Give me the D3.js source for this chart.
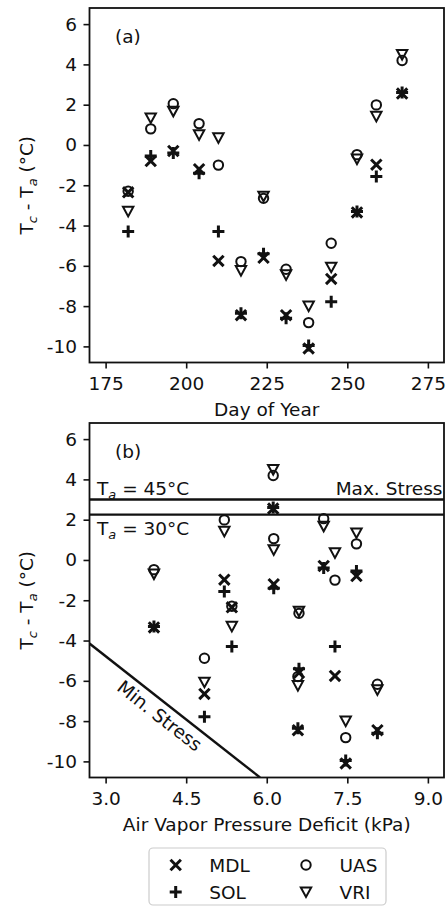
<!DOCTYPE html>
<html>
<head>
<meta charset="utf-8">
<script src="https://cdn.jsdelivr.net/npm/d3@7"></script>
<style>
  body { margin: 0; background: #fff; }
  text { font-family: "DejaVu Sans", sans-serif; fill: #111; }
</style>
</head>
<body>
<svg id="chart" width="447" height="907"></svg>
<script>
const days = [182, 189, 196, 204, 210, 217, 224, 231, 238, 245, 253, 259, 267];
const vpd  = [5.35, 7.67, 7.06, 6.13, 7.27, 6.58, 6.60, 8.06, 7.47, 4.84, 3.90, 5.21, 6.12];
const mdl  = [-2.35, -0.80, -0.30, -1.20, -5.76, -8.45, -5.60, -8.45, -10.10, -6.65, -3.35, -0.98, 2.55];
const sol  = [-4.30, -0.55, -0.40, -1.40, -4.30, -8.35, -5.40, -8.60, -9.95, -7.78, -3.30, -1.56, 2.60];
const uas  = [-2.30, 0.80, 2.05, 1.06, -1.00, -5.79, -2.65, -6.17, -8.82, -4.88, -0.48, 1.99, 4.19];
const vri  = [-3.30, 1.34, 1.67, 0.50, 0.35, -6.24, -2.55, -6.45, -8.00, -6.07, -0.70, 1.42, 4.49];

const seriesNames = ['MDL', 'SOL', 'UAS', 'VRI'];
const seriesMarks = ['x', '+', 'o', 'v'];
const seriesVals = [mdl, sol, uas, vri];

const dayTicks = [175, 200, 225, 250, 275];
const vpdTicks = [3.0, 4.5, 6.0, 7.5, 9.0];
const yTicks = [-10, -8, -6, -4, -2, 0, 2, 4, 6];

// reference lines in panel (b)
const maxStress = [{ label: '45', y: 3.0 }, { label: '30', y: 2.25 }];
const minStress = [[2.7, -4.15], [5.875, -10.8]];

const ink = '#111';
const fs = 18.5;
const svg = d3.select('#chart');

const left = 89.5, right = 444;

// draw one marker shape at a point
function marker(g, type, x, y) {
  const m = g.append('g').attr('transform', `translate(${x},${y})`);
  if (type === 'x') {
    m.append('path').attr('d', 'M-5.2,-5.2L5.2,5.2M-5.2,5.2L5.2,-5.2')
      .attr('stroke', ink).attr('stroke-width', 3).attr('fill', 'none');
  } else if (type === '+') {
    m.append('path').attr('d', 'M-6,0H6M0,-6V6')
      .attr('stroke', ink).attr('stroke-width', 3).attr('fill', 'none');
  } else if (type === 'o') {
    m.append('circle').attr('r', 4.7)
      .attr('stroke', ink).attr('stroke-width', 2).attr('fill', 'none');
  } else {
    m.append('path').attr('d', 'M-5.2,-4.6L5.2,-4.6L0,5Z')
      .attr('stroke', ink).attr('stroke-width', 2).attr('fill', 'none')
      .attr('stroke-linejoin', 'miter');
  }
}

// T with italic subscript
function tSub(sel, sub) {
  sel.append('tspan').text('T');
  sel.append('tspan').text(sub).attr('font-style', 'italic')
    .attr('font-size', fs * 0.7).attr('dy', 4);
  return sel.append('tspan').attr('dy', -4);
}

function panel(top, bottom, xDomain, xTickVals, xFmt, xVals, xTitle, tag) {
  const x = d3.scaleLinear().domain(xDomain).range([left, right]);
  const y = d3.scaleLinear().domain([-10.8, 6.8]).range([bottom, top]);
  const g = svg.append('g');

  const xAxis = g.append('g').attr('transform', `translate(0,${bottom})`)
    .call(d3.axisBottom(x).tickValues(xTickVals).tickFormat(xFmt)
      .tickSize(6).tickPadding(8.5));
  const yAxis = g.append('g').attr('transform', `translate(${left},0)`)
    .call(d3.axisLeft(y).tickValues(yTicks).tickFormat(d => String(d))
      .tickSize(6).tickPadding(6.5));
  [xAxis, yAxis].forEach(a => {
    a.select('.domain').remove();
    a.selectAll('.tick line').attr('stroke', ink).attr('stroke-width', 1.6);
    a.selectAll('.tick text').attr('font-size', fs).attr('fill', ink)
      .attr('font-family', '"DejaVu Sans", sans-serif');
  });

  g.append('rect').attr('x', left).attr('y', top)
    .attr('width', right - left).attr('height', bottom - top)
    .attr('fill', 'none').attr('stroke', ink).attr('stroke-width', 1.8);

  g.append('text').attr('x', (left + right) / 2).attr('y', bottom + 53)
    .attr('text-anchor', 'middle').attr('font-size', fs).text(xTitle);

  const yl = g.append('text')
    .attr('transform', `translate(33,${(top + bottom) / 2}) rotate(-90)`)
    .attr('text-anchor', 'middle').attr('font-size', fs);
  tSub(yl, 'c').text(' - ');
  tSub(yl, 'a').text(' (°C)');

  g.append('text').attr('x', 115).attr('y', top + 35)
    .attr('font-size', fs).text(tag);

  const pts = g.append('g');
  seriesVals.forEach((vals, s) => {
    vals.forEach((v, i) => marker(pts, seriesMarks[s], x(xVals[i]), y(v)));
  });
  return { g, x, y };
}

panel(8, 362.5, [170, 280], dayTicks, d3.format('d'), days, 'Day of Year', '(a)');
const pb = panel(423, 777.5, [2.7, 9.3], vpdTicks, d3.format('.1f'), vpd,
  'Air Vapor Pressure Deficit (kPa)', '(b)');

// panel (b) stress lines
svg.append('clipPath').attr('id', 'clipB').append('rect')
  .attr('x', left).attr('y', 423).attr('width', right - left).attr('height', 777.5 - 423);

maxStress.forEach(d => {
  pb.g.append('line').attr('x1', left).attr('x2', right)
    .attr('y1', pb.y(d.y)).attr('y2', pb.y(d.y))
    .attr('stroke', ink).attr('stroke-width', 2.4);
});
const t45 = pb.g.append('text').attr('x', 97).attr('y', pb.y(maxStress[0].y) - 5)
  .attr('font-size', fs);
tSub(t45, 'a').text(' = 45°C');
const t30 = pb.g.append('text').attr('x', 97).attr('y', pb.y(maxStress[1].y) + 20)
  .attr('font-size', fs);
tSub(t30, 'a').text(' = 30°C');
pb.g.append('text').attr('x', 442.5).attr('y', pb.y(maxStress[0].y) - 5)
  .attr('text-anchor', 'end').attr('font-size', fs).text('Max. Stress');

pb.g.append('path')
  .attr('d', d3.line().x(d => pb.x(d[0])).y(d => pb.y(d[1]))(minStress))
  .attr('clip-path', 'url(#clipB)')
  .attr('stroke', ink).attr('stroke-width', 2.4).attr('fill', 'none');

const p0 = [pb.x(minStress[0][0]), pb.y(minStress[0][1])];
const p1 = [pb.x(minStress[1][0]), pb.y(minStress[1][1])];
const ang = Math.atan2(p1[1] - p0[1], p1[0] - p0[0]);
const along = (168 - p0[0]) / Math.cos(ang);
const cx = p0[0] + along * Math.cos(ang) - 13.5 * Math.sin(ang);
const cy = p0[1] + along * Math.sin(ang) + 13.5 * Math.cos(ang);
pb.g.append('text')
  .attr('transform', `translate(${cx},${cy}) rotate(${ang * 180 / Math.PI})`)
  .attr('text-anchor', 'middle').attr('dy', '0.35em').attr('font-size', fs)
  .text('Min. Stress');

// legend
const lg = svg.append('g');
lg.append('rect').attr('x', 149).attr('y', 848).attr('width', 237).attr('height', 57)
  .attr('rx', 4).attr('fill', '#fff').attr('stroke', '#ccc').attr('stroke-width', 1.2);
const legendPos = [[175.7, 865], [175.7, 892], [306, 865], [306, 892]];
seriesNames.forEach((name, s) => {
  const [lx, ly] = legendPos[s];
  marker(lg, seriesMarks[s], lx, ly);
  lg.append('text').attr('x', lx + 33.5).attr('y', ly + 6.5)
    .attr('font-size', fs).text(name);
});
</script>
</body>
</html>
